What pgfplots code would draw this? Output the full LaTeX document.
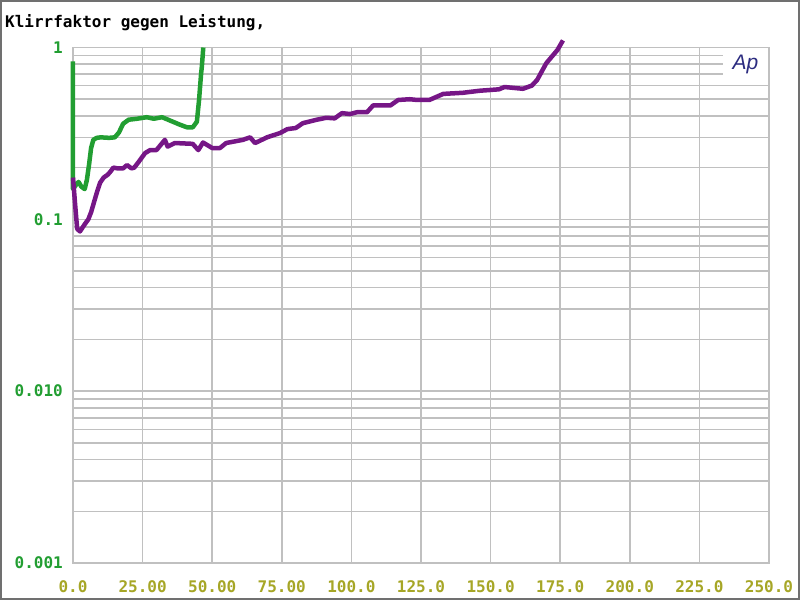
\documentclass[border=0pt]{standalone}
\usepackage{fontspec}
\setmainfont{DejaVu Sans}
\setmonofont{DejaVu Sans Mono}
\newfontfamily\apfont{Liberation Sans}
\usepackage{pgfplots}
\pgfplotsset{compat=1.18}

\definecolor{grn}{RGB}{34,158,50}
\definecolor{oliv}{RGB}{166,166,38}
\definecolor{purp}{RGB}{118,22,134}
\definecolor{gridc}{RGB}{192,192,192}
\definecolor{framec}{RGB}{112,112,112}
\definecolor{apblue}{RGB}{44,44,128}

\newcommand{\lbl}{\ttfamily\bfseries\fontsize{16bp}{18bp}\selectfont}

\begin{document}
\begin{tikzpicture}
\begin{axis}[
    at={(0,0)}, anchor=south west,
    scale only axis,
    width=696bp, height=515.5bp,
    xmin=0, xmax=250,
    ymode=log, ymin=0.001, ymax=1,
    xtick={0,25,50,75,100,125,150,175,200,225,250},
    xticklabels={0.0,25.00,50.00,75.00,100.0,125.0,150.0,175.0,200.0,225.0,250.0},
    ytick={0.001,0.01,0.1,1},
    yticklabels={0.001,0.010,0.1,1},
    xmajorgrids, ymajorgrids, yminorgrids,
    major grid style={draw=gridc, line width=1.5bp},
    minor grid style={draw=gridc, line width=1.5bp},
    axis line style={draw=gridc, line width=1.5bp},
    major tick length=0pt, minor tick length=0pt,
    xticklabel style={font=\lbl, text=oliv, anchor=center, yshift=-24bp},
    yticklabel style={font=\lbl, text=grn, anchor=east, inner sep=0pt, xshift=-10bp},
    clip=false,
]
% green channel
\addplot[draw=grn, line width=4.5bp, line join=round] coordinates {
(0,0.83) (0,0.15) (1,0.158) (2,0.165) (3,0.155) (4.2,0.15) (5,0.17)
(5.8,0.21) (6.5,0.26) (7.3,0.29) (8.5,0.298) (10,0.30) (13,0.298)
(15,0.30) (16.5,0.32) (18,0.36) (20,0.38) (23,0.385) (26.5,0.393)
(29,0.385) (32,0.393) (35,0.375) (38.5,0.355) (41,0.343) (43,0.343)
(44.5,0.37) (45.3,0.5) (46,0.7) (46.3,0.78) (46.8,1.0)
};
% purple channel
\addplot[draw=purp, line width=4.5bp, line join=round] coordinates {
(0,0.175) (0.8,0.12) (1.5,0.088) (2.5,0.085) (3.5,0.09) (4.5,0.095)
(5.5,0.1) (6.5,0.11) (7.5,0.125) (8.5,0.142) (9.7,0.163) (11,0.175)
(12.5,0.182) (13.5,0.19) (14.5,0.2) (16,0.198) (18,0.198) (19.4,0.207)
(21,0.198) (22,0.2) (23.5,0.215) (25.9,0.243) (27.7,0.253) (30,0.253)
(31,0.265) (33,0.29) (34,0.265) (36.6,0.278) (43,0.275) (45,0.253)
(46.7,0.28) (50,0.26) (52.8,0.26) (55,0.278) (61,0.29) (63.6,0.30)
(65.4,0.278) (69.7,0.30) (74.4,0.318) (77,0.335) (80,0.34) (82.6,0.363)
(87.6,0.38) (91,0.39) (94,0.387) (96.6,0.415) (99.5,0.41) (102,0.42)
(105.6,0.42) (107.8,0.46) (114,0.46) (116.8,0.495) (121,0.5) (123.6,0.495)
(128,0.495) (133,0.537) (140,0.545) (146,0.56) (153,0.571) (155,0.589)
(161.6,0.575) (164.8,0.6) (166.7,0.647) (170,0.81) (174,0.967) (176,1.1)
};
\node[fill=white, minimum width=45bp, minimum height=30bp, inner sep=0pt,
      text=apblue, font=\apfont\itshape\fontsize{21bp}{23bp}\selectfont]
      at (rel axis cs:0.966,0.967) {Ap};
\end{axis}
\node[anchor=base west, inner sep=0pt, font=\lbl] at (-68bp,535bp) {Klirrfaktor gegen Leistung,};
\draw[framec, line width=2bp] (-72bp,-36bp) rectangle (726bp,562bp);
\end{tikzpicture}
\end{document}
